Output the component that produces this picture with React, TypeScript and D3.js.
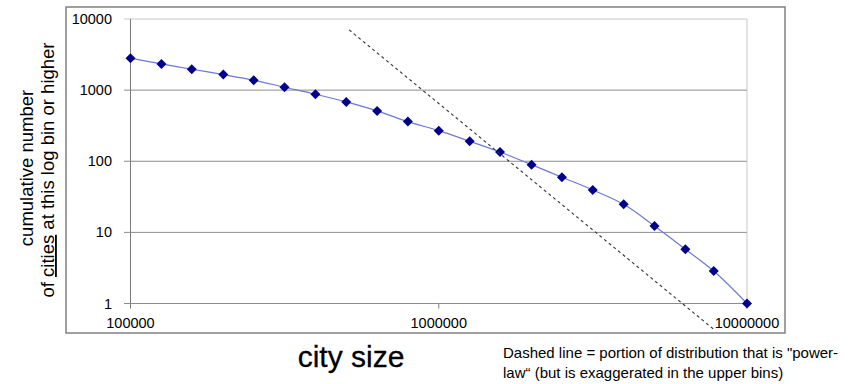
import React from "react";
import * as d3 from "d3";

// city size bins (log spaced) and cumulative counts
const citySizes = [
  100000, 126000, 158000, 200000, 251000, 316000, 398000, 501000, 631000, 794000,
  1000000, 1260000, 1580000, 2000000, 2510000, 3160000, 3980000, 5010000, 6310000, 7800000, 10000000,
];
const cumulativeCounts = [
  2810, 2335, 1967, 1652, 1378, 1098, 876, 682, 510, 361,
  269, 191, 135, 89.6, 59.6, 39.5, 24.8, 12.3, 5.8, 2.86, 1,
];

// the dashed "power-law" guide line (two end points)
const powerLawX = [512000, 7850000];
const powerLawY = [7030, 0.424];

const yTicks = [1, 10, 100, 1000, 10000];
const xTicks = [100000, 1000000, 10000000];

const W = 860;
const H = 384;
const font = "'Liberation Sans', Arial, sans-serif";

const App = () => {
  const x = d3.scaleLog().domain([100000, 10000000]).range([130.5, 747]);
  const y = d3.scaleLog().domain([1, 10000]).range([303.5, 19]);

  const line = d3
    .line<number>()
    .x((d, i) => x(citySizes[i]))
    .y((d) => y(d))
    .curve(d3.curveCatmullRom.alpha(0.5));

  const dashPath = d3
    .line<number>()
    .x((d, i) => x(powerLawX[i]))
    .y((d) => y(d))(powerLawY);

  const diamond = "M0,-5L5,0L0,5L-5,0Z";

  return (
    <svg
      width={W}
      height={H}
      style={{ position: "absolute", left: 0, top: 0, background: "#fff" }}
      fontFamily={font}
    >
      {/* chart frame */}
      <rect x={66} y={7} width={719} height={326} fill="#fff" stroke="#808080" strokeWidth={1.5} />

      {/* horizontal grid lines */}
      {yTicks.map((t) => (
        <line
          key={"g" + t}
          x1={124}
          x2={747}
          y1={y(t)}
          y2={y(t)}
          stroke={t === 10000 ? "#c8c8c8" : "#8c8c8c"}
          strokeWidth={1}
        />
      ))}
      {/* right edge of plot area */}
      <line x1={747} x2={747} y1={y(10000)} y2={y(1)} stroke="#c8c8c8" strokeWidth={1} />
      {/* y axis */}
      <line x1={130.5} x2={130.5} y1={y(10000)} y2={y(1)} stroke="#7a7a7a" strokeWidth={1} />
      {/* x tick marks */}
      {xTicks.map((t) => (
        <line key={"xt" + t} x1={x(t)} x2={x(t)} y1={y(1)} y2={y(1) + 5} stroke="#7a7a7a" />
      ))}

      {/* y tick labels */}
      {yTicks.map((t) => (
        <text
          key={"yl" + t}
          x={112}
          y={y(t) + 5}
          textAnchor="end"
          fontSize={14.5}
          fill="#000"
        >
          {t}
        </text>
      ))}
      {/* x tick labels */}
      {xTicks.map((t) => (
        <text key={"xl" + t} x={x(t)} y={328} textAnchor="middle" fontSize={14.5} fill="#000">
          {t}
        </text>
      ))}

      {/* data line */}
      <path d={line(cumulativeCounts) || ""} fill="none" stroke="#6b78d6" strokeWidth={1.2} />
      {/* markers */}
      {cumulativeCounts.map((v, i) => (
        <path
          key={"m" + i}
          d={diamond}
          transform={`translate(${x(citySizes[i])},${y(v)})`}
          fill="#00008c"
        />
      ))}

      {/* power-law dashed line */}
      <path d={dashPath || ""} fill="none" stroke="#333" strokeWidth={1.1} strokeDasharray="3,3" />

      {/* y axis title */}
      <g transform="translate(33,168) rotate(-90)">
        <text textAnchor="middle" fontSize={18.5} fill="#000">
          cumulative number
        </text>
      </g>
      <g transform="translate(54,170) rotate(-90)">
        <text textAnchor="middle" fontSize={18.5} fill="#000">
          of <tspan textDecoration="underline" style={{ textDecoration: "underline" }}>cities</tspan> at this log bin or higher
        </text>
      </g>

      {/* x axis title */}
      <text x={351} y={367} textAnchor="middle" fontSize={30} fill="#000" stroke="#000" strokeWidth={0.3}>
        city size
      </text>

      {/* note */}
      <text x={503} y={358} fontSize={15} fill="#000">
        Dashed line = portion of distribution that is "power-
      </text>
      <text x={503} y={378} fontSize={15} fill="#000">
        law“ (but is exaggerated in the upper bins)
      </text>
    </svg>
  );
};

export default App;
